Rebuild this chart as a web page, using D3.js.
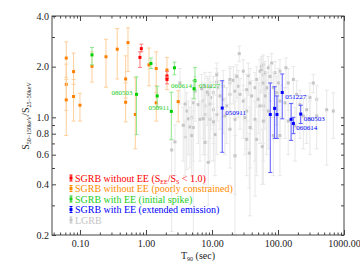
<!DOCTYPE html>
<html>
<head>
<meta charset="utf-8">
<script src="https://cdn.jsdelivr.net/npm/d3@7"></script>
<style>
  body { margin: 0; background: #fff; }
  svg text { font-family: "Liberation Serif", "Times New Roman", serif; }
</style>
</head>
<body>
<svg id="canvas" width="360" height="270"></svg>
<script>
// rows: [T90 (sec), S(50-150)/S(25-50), lower, upper]
const SGRB_RED = [
  [0.85, 2.56, 2.45, 2.72], [0.81, 2.27, 1.98, 2.45],
  [2.08, 1.76, 1.70, 1.87], [2.08, 1.68, 1.58, 1.74]
];
const SGRB_ORANGE = [
  [0.062, 2.25, 1.73, 2.81], [0.062, 1.57, 1.10, 2.07], [0.062, 1.27, 0.78, 1.68],
  [0.080, 1.87, 1.57, 2.41], [0.080, 1.33, 0.95, 1.68], [0.100, 1.18, 0.95, 1.39],
  [0.152, 2.01, 1.62, 2.45], [0.248, 2.29, 1.51, 2.91], [0.367, 2.54, 1.69, 3.37],
  [0.534, 2.78, 1.87, 3.40], [0.492, 1.69, 1.30, 2.32], [0.492, 1.23, 0.94, 1.60],
  [0.69, 1.04, 0.65, 1.72], [1.11, 2.05, 1.54, 2.58], [1.43, 1.95, 1.40, 2.45],
  [1.43, 1.22, 0.95, 1.54], [2.08, 1.91, 1.46, 2.27], [3.08, 1.24, 0.94, 1.44]
];
const SGRB_GREEN = [
  [0.152, 2.35, 2.05, 2.60], [1.19, 2.09, 1.95, 2.25], [2.70, 1.97, 1.79, 2.13],
  [0.72, 1.37, 0.79, 1.74], [1.48, 1.34, 1.15, 1.53], [2.42, 1.085, 0.74, 1.41],
  [5.52, 1.65, 1.45, 1.98], [5.35, 1.48, 1.29, 1.65]
];
const SGRB_BLUE = [
  [14.3, 1.135, 0.62, 1.65], [116, 1.405, 0.98, 1.81], [76.4, 1.04, 0.47, 1.60],
  [89, 1.13, 0.75, 1.52], [96.6, 1.04, 0.75, 1.34], [158, 0.973, 0.73, 1.21],
  [171, 0.92, 0.80, 1.00], [221, 1.046, 0.92, 1.18]
];
const LGRB = [
  [25.9, 2.39, 2.15, 2.65], [29.8, 1.88, 1.45, 2.20], [35.5, 1.77, 1.35, 2.10],
  [53.4, 1.88, 1.40, 2.20], [56.6, 2.01, 1.55, 2.30], [59.9, 2.06, 1.60, 2.35],
  [21.0, 1.66, 1.20, 2.00], [18.7, 1.60, 1.05, 1.95], [14.8, 1.53, 1.00, 1.90],
  [12.0, 1.50, 0.95, 1.85], [10.5, 1.40, 0.90, 1.75], [9.55, 1.31, 0.85, 1.62],
  [8.79, 1.37, 0.54, 1.70], [7.38, 1.25, 0.75, 1.60], [6.20, 1.19, 0.70, 1.55],
  [5.21, 1.22, 0.20, 1.55], [4.92, 0.996, 0.60, 1.30], [4.14, 1.09, 0.49, 1.40],
  [5.21, 0.87, 0.55, 1.10], [3.90, 0.76, 0.45, 0.95], [7.83, 1.17, 0.70, 1.50],
  [7.83, 1.04, 0.60, 1.35], [10.5, 1.11, 0.70, 1.40], [11.8, 1.04, 0.60, 1.35],
  [11.1, 0.79, 0.45, 1.05], [14.8, 1.28, 0.80, 1.60], [16.7, 1.17, 0.70, 1.50],
  [18.7, 1.37, 0.85, 1.70], [22.3, 1.43, 0.20, 1.80], [25.0, 1.53, 1.00, 1.90],
  [26.6, 1.37, 0.85, 1.70], [29.8, 1.25, 0.75, 1.55], [33.6, 1.46, 0.95, 1.80],
  [37.7, 1.60, 0.26, 1.95], [40.0, 1.34, 0.85, 1.65], [44.9, 1.50, 0.34, 1.85],
  [47.6, 1.68, 1.15, 2.00], [50.3, 1.28, 0.80, 1.60], [53.4, 1.17, 0.70, 1.45],
  [33.6, 1.09, 0.65, 1.40], [31.6, 0.996, 0.60, 1.30], [37.7, 0.87, 0.50, 1.15],
  [44.9, 0.973, 0.55, 1.25], [47.6, 0.74, 0.45, 0.95], [33.6, 0.74, 0.45, 0.95],
  [22.3, 0.973, 0.60, 1.25], [18.7, 0.85, 0.50, 1.10], [15.7, 1.02, 0.60, 1.30],
  [9.33, 0.973, 0.55, 1.25], [6.58, 0.973, 0.55, 1.25], [5.53, 1.43, 0.95, 1.75],
  [7.83, 1.53, 1.00, 1.85], [13.2, 1.34, 0.85, 1.65], [59.9, 1.79, 0.40, 2.10],
  [63.5, 1.46, 0.95, 1.80], [56.6, 1.92, 1.40, 2.25], [63.5, 1.84, 1.35, 2.15],
  [71.3, 1.97, 1.45, 2.30], [80.3, 2.10, 1.60, 2.40], [75.7, 1.75, 1.25, 2.05],
  [90.1, 1.84, 1.35, 2.15], [107, 1.88, 1.40, 2.20], [59.9, 1.60, 1.10, 1.95],
  [67.4, 1.50, 0.60, 1.85], [84.9, 1.50, 1.00, 1.85], [101, 1.60, 1.10, 1.95],
  [95.6, 1.40, 0.90, 1.75], [63.5, 1.34, 0.85, 1.65], [59.9, 1.17, 0.70, 1.45],
  [71.3, 1.09, 0.65, 1.40], [107, 1.25, 0.75, 1.55], [128, 1.22, 0.75, 1.50],
  [171, 1.68, 1.20, 2.00], [143, 1.60, 1.10, 1.95], [192, 1.37, 0.85, 1.65],
  [215, 1.19, 0.75, 1.45], [272, 1.11, 0.70, 1.35], [305, 1.31, 0.85, 1.60],
  [343, 1.60, 1.40, 1.80], [386, 1.28, 0.85, 1.55], [547, 1.11, 0.52, 1.45],
  [689, 1.09, 0.75, 1.40], [242, 1.02, 0.65, 1.30], [143, 0.95, 0.60, 1.20],
  [181, 0.89, 0.55, 1.15], [107, 0.78, 0.45, 1.00], [84.9, 0.78, 0.45, 1.00],
  [59.9, 0.95, 0.55, 1.20], [305, 0.973, 0.60, 1.25], [386, 1.02, 0.65, 1.30],
  [3.90, 1.20, 0.75, 1.50], [4.37, 0.98, 0.60, 1.25], [4.64, 0.877, 0.50, 1.15],
  [4.92, 0.78, 0.45, 1.00], [3.27, 1.60, 1.20, 1.95], [6.98, 1.48, 1.00, 1.80],
  [9.33, 1.20, 0.75, 1.50], [11.8, 1.62, 1.15, 1.95], [8.49, 1.41, 0.90, 1.75],
  [7.38, 0.98, 0.60, 1.25], [10.5, 0.94, 0.55, 1.20], [2.75, 0.715, 0.45, 0.90],
  [3.67, 0.897, 0.55, 1.15], [36.7, 0.613, 0.38, 0.80], [22.3, 0.59, 0.35, 0.78],
  [57.8, 0.67, 0.40, 0.85], [8.79, 0.54, 0.30, 0.72], [7.83, 0.71, 0.40, 0.90],
  [2.45, 0.64, 0.21, 0.73], [11.8, 1.79, 1.35, 2.10], [9.33, 1.52, 1.00, 1.85],
  [23.7, 1.75, 1.30, 2.05], [18.7, 1.68, 1.20, 2.00], [132, 1.97, 1.50, 2.25]
];

// burst names: [name, row index]
const GREEN_NAMES = [["080503", 3], ["050911", 5], ["051227", 6], ["060614", 7]];
const BLUE_NAMES = [["050911", 0], ["051227", 1], ["060614", 6], ["080503", 7]];

const X_MAJOR = [0.1, 1, 10, 100, 1000];
const Y_MAJOR = [0.2, 0.4, 0.6, 0.8, 1.0, 2.0, 4.0];
const Y_MINOR = [0.3, 0.5, 0.7, 0.9, 3.0];

const LEGEND = [
  "SGRB without EE",
  "SGRB without EE (poorly constrained)",
  "SGRB with EE (initial spike)",
  "SGRB with EE (extended emission)",
  "LGRB"
];

let svg = d3.select('#canvas')

let x = d3.scaleLog().domain([0.0377, 1000]).range([52, 344])
let y = d3.scaleLog().domain([0.2, 4]).range([235, 16])

let xMinor = []
for (let e = -2; e <= 2; e++) {
  for (let m = 2; m <= 9; m++) {
    let v = m * Math.pow(10, e)
    if (v > 0.0377 && v < 1000) xMinor.push(v)
  }
}

let drawSeries = (data, ptColor, barColor) => {
  let g = svg.append('g')
  let rows = g.selectAll('g').data(data).enter().append('g')
  rows.append('line')
    .attr('x1', d => x(d[0])).attr('x2', d => x(d[0]))
    .attr('y1', d => y(d[2])).attr('y2', d => y(d[3]))
    .attr('stroke', barColor).attr('stroke-width', 1)
  rows.append('line')
    .attr('x1', d => x(d[0]) - 2).attr('x2', d => x(d[0]) + 2)
    .attr('y1', d => y(d[2])).attr('y2', d => y(d[2]))
    .attr('stroke', barColor)
  rows.append('line')
    .attr('x1', d => x(d[0]) - 2).attr('x2', d => x(d[0]) + 2)
    .attr('y1', d => y(d[3])).attr('y2', d => y(d[3]))
    .attr('stroke', barColor)
  rows.append('rect')
    .attr('x', d => x(d[0]) - 1.5).attr('y', d => y(d[1]) - 1.5)
    .attr('width', 3).attr('height', 3)
    .attr('fill', ptColor)
}

drawSeries(LGRB, '#c6c6c6', '#e8e8e8')
drawSeries(SGRB_ORANGE, '#ff8000', '#ffcf9c')
drawSeries(SGRB_RED, '#ff0000', '#ff7a7a')
drawSeries(SGRB_GREEN, '#00d000', '#8ee88e')
drawSeries(SGRB_BLUE, '#0000ff', '#5a5aff')

// burst labels
const GREEN_OFF = { "080503": [-4, 0.5, 'end'], "050911": [-2, -1.5, 'end'], "051227": [4, 7, 'start'], "060614": [-2, -0.5, 'end'] }
svg.append('g').selectAll('text').data(GREEN_NAMES).enter().append('text')
  .attr('x', d => x(SGRB_GREEN[d[1]][0]) + GREEN_OFF[d[0]][0])
  .attr('y', d => y(SGRB_GREEN[d[1]][1]) + GREEN_OFF[d[0]][1])
  .attr('text-anchor', d => GREEN_OFF[d[0]][2])
  .attr('font-size', 7).attr('fill', '#22cc22')
  .text(d => d[0])

svg.append('g').selectAll('text').data(BLUE_NAMES).enter().append('text')
  .attr('x', d => x(SGRB_BLUE[d[1]][0]) + 3)
  .attr('y', d => y(SGRB_BLUE[d[1]][1]) + 6.5)
  .attr('font-size', 7).attr('fill', '#0000ff')
  .text(d => d[0])

// axes
let styleAxis = (g) => {
  g.select('.domain').remove()
  g.selectAll('line').attr('stroke', '#444')
  g.selectAll('text').attr('font-family', '"Liberation Serif", serif').attr('font-size', 10).attr('fill', '#222')
}

svg.append('g').attr('transform', 'translate(0,235)')
  .call(d3.axisBottom(x).tickValues(X_MAJOR).tickFormat(d => d.toFixed(2)).tickSizeInner(-5).tickSizeOuter(0).tickPadding(5))
  .call(styleAxis)
svg.append('g').attr('transform', 'translate(0,235)')
  .call(d3.axisBottom(x).tickValues(xMinor).tickFormat('').tickSizeInner(-2.5).tickSizeOuter(0))
  .call(styleAxis)
svg.append('g').attr('transform', 'translate(0,16)')
  .call(d3.axisTop(x).tickValues(X_MAJOR).tickFormat('').tickSizeInner(-5).tickSizeOuter(0))
  .call(styleAxis)
svg.append('g').attr('transform', 'translate(0,16)')
  .call(d3.axisTop(x).tickValues(xMinor).tickFormat('').tickSizeInner(-2.5).tickSizeOuter(0))
  .call(styleAxis)

svg.append('g').attr('transform', 'translate(52,0)')
  .call(d3.axisLeft(y).tickValues(Y_MAJOR).tickFormat(d3.format('.1f')).tickSizeInner(-4).tickSizeOuter(0).tickPadding(3))
  .call(styleAxis)
svg.append('g').attr('transform', 'translate(52,0)')
  .call(d3.axisLeft(y).tickValues(Y_MINOR).tickFormat('').tickSizeInner(-3).tickSizeOuter(0))
  .call(styleAxis)
svg.append('g').attr('transform', 'translate(344,0)')
  .call(d3.axisRight(y).tickValues(Y_MAJOR.concat(Y_MINOR)).tickFormat('').tickSizeInner(-3).tickSizeOuter(0))
  .call(styleAxis)

svg.append('rect')
  .attr('x', 52).attr('y', 16).attr('width', 292).attr('height', 219)
  .attr('fill', 'none').attr('stroke', '#444').attr('stroke-width', 1)

// axis titles
let xt = svg.append('text').attr('x', 198).attr('y', 259).attr('text-anchor', 'middle')
  .attr('font-size', 10).attr('fill', '#222')
xt.append('tspan').text('T')
xt.append('tspan').attr('font-size', 6).attr('dy', 2).text('90')
xt.append('tspan').attr('dy', -2).text(' (sec)')

let yt = svg.append('text').attr('transform', 'translate(29,116) rotate(-90)').attr('text-anchor', 'middle')
  .attr('font-size', 10).attr('fill', '#222')
yt.append('tspan').text('S')
yt.append('tspan').attr('font-size', 6).attr('dy', 2).text('50\u2212150keV')
yt.append('tspan').attr('dy', -2).text('/S')
yt.append('tspan').attr('font-size', 6).attr('dy', 2).text('25\u221250keV')

// legend
const LEG_COLORS = ['#ff0000', '#ff8c00', '#22cc22', '#0000ff', '#c4c4c4']
let leg = svg.append('g').selectAll('g').data(LEGEND).enter().append('g')
  .attr('transform', (d, i) => 'translate(71,' + (178 + i * 10.5) + ')')
leg.append('line').attr('x1', 0).attr('x2', 0).attr('y1', -3).attr('y2', 3)
  .attr('stroke', (d, i) => LEG_COLORS[i])
leg.append('line').attr('x1', -1.5).attr('x2', 1.5).attr('y1', -3).attr('y2', -3).attr('stroke', (d, i) => LEG_COLORS[i])
leg.append('line').attr('x1', -1.5).attr('x2', 1.5).attr('y1', 3).attr('y2', 3).attr('stroke', (d, i) => LEG_COLORS[i])
leg.append('rect').attr('x', -1.5).attr('y', -1.5).attr('width', 3).attr('height', 3)
  .attr('fill', (d, i) => LEG_COLORS[i])
let legText = leg.append('text').attr('x', 4).attr('y', 3.5).attr('font-size', 10)
  .attr('fill', (d, i) => LEG_COLORS[i])
legText.append('tspan').text(d => d)
legText.filter((d, i) => i === 0).each(function () {
  let t = d3.select(this)
  t.append('tspan').text(' (S')
  t.append('tspan').attr('font-size', 6).attr('dy', 2).text('EE')
  t.append('tspan').attr('dy', -2).text('/S')
  t.append('tspan').attr('font-size', 6).attr('dy', 2).text('S')
  t.append('tspan').attr('dy', -2).text(' < 1.0)')
})
</script>
</body>
</html>
